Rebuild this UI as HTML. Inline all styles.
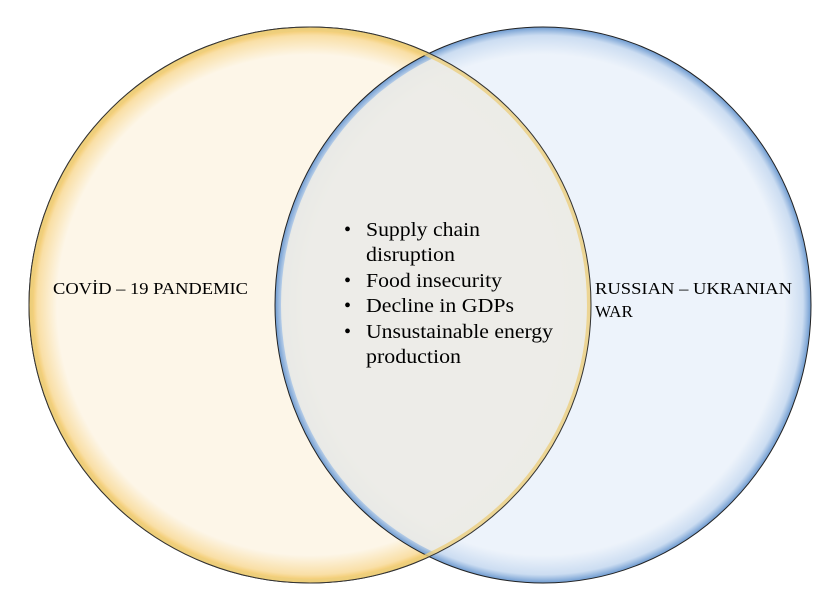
<!DOCTYPE html>
<html><head><meta charset="utf-8"><style>
html,body{margin:0;padding:0;background:#fff;}
svg{display:block}
text{font-family:"Liberation Serif",serif;fill:#000}
</style></head><body>
<svg width="836" height="616" viewBox="0 0 836 616" xmlns="http://www.w3.org/2000/svg">
<defs>
<radialGradient id="gy" cx="0.5" cy="0.5" r="0.5">
<stop offset="0.9" stop-color="#fdf6e8"/>
<stop offset="0.97" stop-color="#f9dfa6"/>
<stop offset="1" stop-color="#f0c050"/>
</radialGradient>
<radialGradient id="gb" cx="0.5" cy="0.5" r="0.5">
<stop offset="0.9" stop-color="#eaf1fa" stop-opacity="0.85"/>
<stop offset="0.97" stop-color="#c6d9f0" stop-opacity="0.9"/>
<stop offset="1" stop-color="#6d9ad0"/>
</radialGradient>
<clipPath id="cl"><ellipse cx="310" cy="305" rx="281" ry="278"/></clipPath>
</defs>
<ellipse cx="310" cy="305" rx="281" ry="278" fill="url(#gy)" stroke="#222" stroke-width="1"/>
<ellipse cx="543" cy="305" rx="268" ry="278" fill="url(#gb)" stroke="#222" stroke-width="1"/>
<ellipse cx="543" cy="305" rx="262" ry="272" fill="#ecebe6" clip-path="url(#cl)" opacity="0.9"/>
<ellipse cx="310" cy="305" rx="279" ry="276" fill="none" stroke="#eccf80" stroke-width="4" opacity="0.8"/>
<ellipse cx="310" cy="305" rx="281" ry="278" fill="none" stroke="#333" stroke-width="1"/>
<text x="53" y="294" font-size="17" textLength="195" lengthAdjust="spacingAndGlyphs">COVİD – 19 PANDEMIC</text>
<text x="595" y="294" font-size="17" textLength="197" lengthAdjust="spacingAndGlyphs">RUSSIAN – UKRANIAN</text>
<text x="595" y="317" font-size="17">WAR</text>
<g font-size="20">
<text x="344" y="236">•</text><text x="366" y="236" textLength="114" lengthAdjust="spacingAndGlyphs">Supply chain</text>
<text x="366" y="261" textLength="89" lengthAdjust="spacingAndGlyphs">disruption</text>
<text x="344" y="287">•</text><text x="366" y="287" textLength="136" lengthAdjust="spacingAndGlyphs">Food insecurity</text>
<text x="344" y="312">•</text><text x="366" y="312" textLength="148" lengthAdjust="spacingAndGlyphs">Decline in GDPs</text>
<text x="344" y="338">•</text><text x="366" y="338" textLength="187" lengthAdjust="spacingAndGlyphs">Unsustainable energy</text>
<text x="366" y="363" textLength="95" lengthAdjust="spacingAndGlyphs">production</text>
</g>
</svg>
</body></html>
